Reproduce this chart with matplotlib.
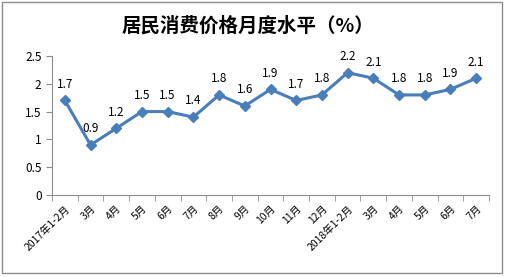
import matplotlib.pyplot as plt
from matplotlib.patches import Rectangle

plt.rcParams['font.family'] = ['Noto Sans CJK SC', 'DejaVu Sans']

months = ['2017年1-2月', '3月', '4月', '5月', '6月', '7月', '8月', '9月', '10月', '11月', '12月',
          '2018年1-2月', '3月', '4月', '5月', '6月', '7月']
cpi = [1.7, 0.9, 1.2, 1.5, 1.5, 1.4, 1.8, 1.6, 1.9, 1.7, 1.8, 2.2, 2.1, 1.8, 1.8, 1.9, 2.1]
yticks = [0, 0.5, 1, 1.5, 2, 2.5]

fig = plt.figure(figsize=(5.05, 2.77), dpi=100)
# outer border like the excel chart box
fig.patches.append(Rectangle((0.004, 0.014), 0.99, 0.978, transform=fig.transFigure,
                             fill=False, edgecolor='#8c8c8c', linewidth=1))

ax = fig.add_axes([52/505, 1 - 195/277, (489-52)/505, (195-56)/277])
x = range(len(months))
ax.plot(x, cpi, color='#4A7EBB', linewidth=2.2, marker='D', markersize=5)

for i, v in zip(x, cpi):
    ax.annotate(f'{v}', (i, v), xytext=(0, 7), textcoords='offset points',
                ha='center', va='bottom', fontsize=8.5)

ax.set_xlim(-0.5, len(months) - 0.5)
ax.set_ylim(0, 2.5)
ax.set_yticks(yticks)
ax.set_yticklabels(['0', '0.5', '1', '1.5', '2', '2.5'], fontsize=8.5)
ax.set_xticks(x)
ax.set_xticklabels(months, rotation=45, ha='right', rotation_mode='anchor', fontsize=7.5)
ax.set_xticks([i - 0.5 for i in range(len(months) + 1)], minor=True)
ax.tick_params(axis='x', which='major', length=0, pad=6)
ax.tick_params(axis='x', which='minor', length=4, color='#8c8c8c', direction='out')
ax.tick_params(axis='y', length=4, color='#8c8c8c', direction='out')

for s in ['top', 'right']:
    ax.spines[s].set_visible(False)
for s in ['left', 'bottom']:
    ax.spines[s].set_color('#8c8c8c')

fig.text(248/505, 1 - 26/277, '居民消费价格月度水平（%）', ha='center', va='center',
         fontsize=14, fontweight='bold')

plt.savefig('out.png', dpi=100)
